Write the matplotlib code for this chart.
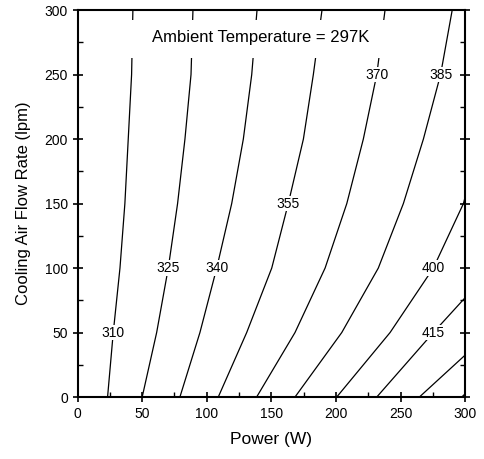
import matplotlib
matplotlib.use("Agg")
import matplotlib.pyplot as plt
from matplotlib.ticker import MultipleLocator
from matplotlib.patches import Rectangle
import numpy as np

plt.rcParams['font.family'] = ['Liberation Sans', 'DejaVu Sans']

# contour levels (K) and the lines: power (W) at flow rate (lpm)
levels = [310, 325, 340, 355, 370, 385, 400, 415, 430, 445]
flow_full = [0, 50, 100, 150, 200, 250, 300]
power_310 = [23.2, 27.6, 32.8, 36.6, 39.2, 41.8, 42.8]
power_325 = [50.0, 61.2, 70.2, 77.4, 83.1, 87.8, 89.3]
power_340 = [79.2, 94.7, 107.7, 119.3, 128.3, 134.8, 138.9]
power_355 = [108.9, 130.9, 150.3, 163.1, 174.8, 182.5, 189.2]
power_370 = [138.6, 168.3, 191.6, 208.4, 221.2, 231.6, 238.0]
power_385 = [168.3, 204.5, 232.8, 252.2, 267.7, 281.0, 290.0]
flow_400 = [0, 50, 100, 150, 155]
power_400 = [200.6, 241.9, 275.4, 298.7, 300]
flow_415 = [0, 50, 77]
power_415 = [231.6, 275.4, 300]
flow_430 = [0, 32.5]
power_430 = [264.6, 300]
flow_445 = [0, 2.5]
power_445 = [297.4, 300]

lines = [
    (power_310, flow_full), (power_325, flow_full), (power_340, flow_full),
    (power_355, flow_full), (power_370, flow_full), (power_385, flow_full),
    (power_400, flow_400), (power_415, flow_415), (power_430, flow_430),
    (power_445, flow_445),
]

# flow rate where each labelled line carries its label
label_flow = {310: 50, 325: 100, 340: 100, 355: 150, 370: 250, 385: 250, 400: 100, 415: 50}

fig = plt.figure(figsize=(4.85, 4.59), dpi=100)
ax = fig.add_axes([0.160, 0.135, 0.799, 0.843])

for lev, (px, fy) in zip(levels, lines):
    ax.plot(px, fy, color='black', lw=0.9, zorder=2)
    if lev in label_flow:
        yl = label_flow[lev]
        xl = np.interp(yl, fy, px)
        ax.text(xl, yl, str(lev), ha='center', va='center', fontsize=10,
                bbox=dict(facecolor='white', edgecolor='none', pad=0.5), zorder=3)

# white block behind the title that breaks the lines
ax.add_patch(Rectangle((41, 263), 199, 29, facecolor='white', edgecolor='none', zorder=3))
ax.text(142, 278.5, 'Ambient Temperature = 297K', ha='center', va='center',
        fontsize=12, zorder=4)

ax.set_xlim(0, 300)
ax.set_ylim(0, 300)
ax.xaxis.set_major_locator(MultipleLocator(50))
ax.xaxis.set_minor_locator(MultipleLocator(25))
ax.yaxis.set_major_locator(MultipleLocator(50))
ax.yaxis.set_minor_locator(MultipleLocator(25))
ax.tick_params(which='major', direction='inout', length=7, width=1.2, labelsize=10)
ax.tick_params(which='minor', direction='in', length=3.5, width=1.0)
ax.tick_params(axis='y', which='both', right=True)
for s in ax.spines.values():
    s.set_linewidth(1.5)

ax.set_xlabel('Power (W)', fontsize=12.5, labelpad=8)
ax.set_ylabel('Cooling Air Flow Rate (lpm)', fontsize=12, labelpad=10)

fig.savefig('out.png', dpi=100)
